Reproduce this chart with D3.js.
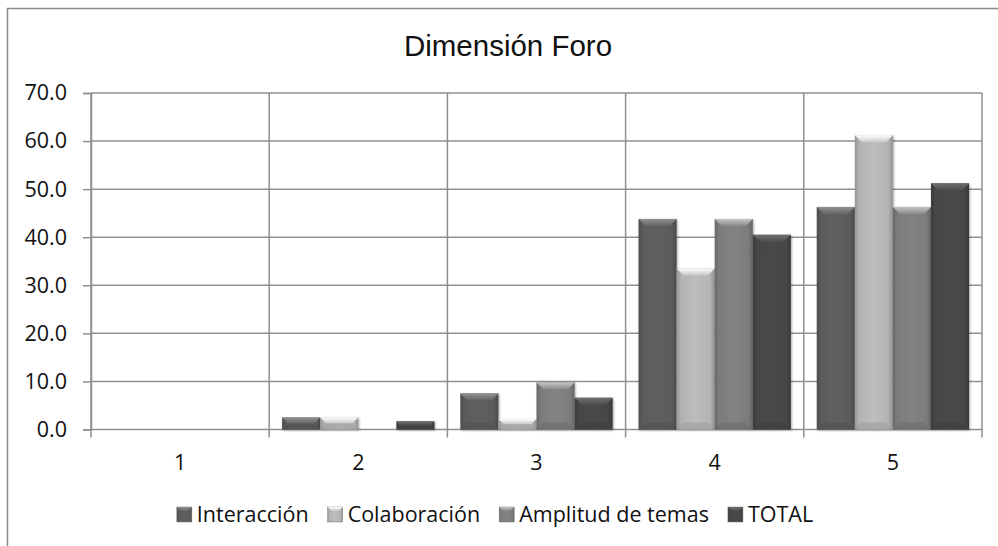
<!DOCTYPE html>
<html>
<head>
<meta charset="utf-8">
<script src="https://cdn.jsdelivr.net/npm/d3@7"></script>
<style>
  body { margin: 0; background: #fff; }
  svg { display: block; }
</style>
</head>
<body>
<div id="chart"></div>
<script>
// data
const categories = ["1", "2", "3", "4", "5"];
const series = ["Interacción", "Colaboración", "Amplitud de temas", "TOTAL"];
const interaccion  = [0, 2.5, 7.5, 43.8, 46.3];
const colaboracion = [0, 2.5, 2.2, 33.5, 61.2];
const amplitud     = [0, 0, 9.8, 43.8, 46.3];
const total        = [0, 1.7, 6.6, 40.5, 51.2];
const yTicks = [0, 10, 20, 30, 40, 50, 60, 70];
const colors = ["#5b5b5b", "#b3b3b3", "#7c7c7c", "#464646"];

const values = [interaccion, colaboracion, amplitud, total];

const width = 998, height = 546;
const margin = {top: 93, right: 16, bottom: 116, left: 91};
const labelFont = "21.5px 'Open Sans', sans-serif";

const svg = d3.select("#chart").append("svg")
    .attr("width", width)
    .attr("height", height);

// gradients per series: a bit lighter in the middle, darker at the edges
const defs = svg.append("defs");
series.forEach((s, i) => {
  const c = d3.color(colors[i]);
  const g = defs.append("linearGradient").attr("id", "g" + i)
      .attr("x1", 0).attr("x2", 1).attr("y1", 0).attr("y2", 0);
  g.append("stop").attr("offset", "0%").attr("stop-color", c.darker(0.5));
  g.append("stop").attr("offset", "12%").attr("stop-color", c);
  g.append("stop").attr("offset", "50%").attr("stop-color", c.brighter(0.15));
  g.append("stop").attr("offset", "88%").attr("stop-color", c);
  g.append("stop").attr("offset", "100%").attr("stop-color", c.darker(0.6));
  const t = defs.append("linearGradient").attr("id", "t" + i)
      .attr("x1", 0).attr("x2", 0).attr("y1", 0).attr("y2", 1);
  t.append("stop").attr("offset", "0%").attr("stop-color", c.brighter(1.3));
  t.append("stop").attr("offset", "100%").attr("stop-color", c.brighter(0.3));
});
const shadow = defs.append("filter").attr("id", "sh")
    .attr("x", "-20%").attr("y", "-20%").attr("width", "140%").attr("height", "140%");
shadow.append("feDropShadow").attr("dx", 1).attr("dy", 1).attr("stdDeviation", 1.2)
    .attr("flood-color", "#000").attr("flood-opacity", 0.35);

// outer chart border
svg.append("rect")
    .attr("x", 7.5).attr("y", 8.5)
    .attr("width", width + 10).attr("height", height + 10)
    .attr("fill", "none").attr("stroke", "#8a8a8a").attr("stroke-width", 1.5);

const x = d3.scaleBand().domain(categories)
    .range([margin.left, width - margin.right]);
const xs = d3.scaleBand().domain(series)
    .range([0, x.bandwidth()]).paddingOuter(0.34);
const y = d3.scaleLinear().domain([0, 70])
    .range([height - margin.bottom - 0.5, margin.top]);

// title
svg.append("text")
    .attr("x", 508)
    .attr("y", 56)
    .attr("text-anchor", "middle")
    .style("font", "29.5px 'Liberation Sans', Arial, sans-serif")
    .attr("fill", "#111")
    .text("Dimensión Foro");

const grid = "#8f8f8f";

// horizontal gridlines + y axis
const yAxis = svg.append("g")
    .attr("transform", `translate(${margin.left},0)`)
    .call(d3.axisLeft(y).tickValues(yTicks)
      .tickSize(8).tickPadding(16)
      .tickFormat(d3.format(".1f")));
yAxis.select(".domain").attr("stroke", grid).attr("stroke-width", 1.5);
yAxis.selectAll(".tick line").attr("stroke", grid).attr("stroke-width", 1.5);
yAxis.selectAll(".tick text")
    .style("font", labelFont).attr("fill", "#111");

svg.append("g").selectAll("line")
  .data(yTicks)
  .join("line")
    .attr("x1", margin.left).attr("x2", width - margin.right)
    .attr("y1", d => y(d)).attr("y2", d => y(d))
    .attr("stroke", grid).attr("stroke-width", 1.5);

// vertical gridlines at category boundaries
const bounds = categories.map(c => x(c)).concat([width - margin.right]);
svg.append("g").selectAll("line")
  .data(bounds)
  .join("line")
    .attr("x1", d => d).attr("x2", d => d)
    .attr("y1", margin.top).attr("y2", y(0) + 8)
    .attr("stroke", grid).attr("stroke-width", 1.5);

// category labels
svg.append("g").selectAll("text")
  .data(categories)
  .join("text")
    .attr("x", d => x(d) + x.bandwidth() / 2)
    .attr("y", 470)
    .attr("text-anchor", "middle")
    .style("font", labelFont)
    .attr("fill", "#111")
    .text(d => d);

// bars
const bev = 7;
const rows = [];
categories.forEach((c, ci) => series.forEach((s, si) => {
  rows.push({cat: c, s, si, v: values[si][ci]});
}));

const bars = svg.append("g").selectAll("g")
  .data(rows.filter(d => d.v > 0))
  .join("g")
    .attr("transform", d => `translate(${x(d.cat) + xs(d.s)},${y(d.v)})`);

bars.append("rect")
    .attr("width", xs.bandwidth())
    .attr("height", d => y(0) - y(d.v))
    .attr("fill", d => `url(#g${d.si})`)
    .attr("filter", "url(#sh)");

// top bevel
bars.append("path")
    .attr("d", d => {
      const w = xs.bandwidth(), h = Math.min(bev, (y(0) - y(d.v)) / 2);
      return `M0,0H${w}L${w - h},${h}H${h}Z`;
    })
    .attr("fill", d => `url(#t${d.si})`);

// bottom bevel
bars.append("path")
    .attr("d", d => {
      const w = xs.bandwidth(), hh = y(0) - y(d.v), h = Math.min(bev, hh / 2);
      return `M0,${hh}H${w}L${w - h},${hh - h}H${h}Z`;
    })
    .attr("fill", d => d3.color(colors[d.si]).darker(0.35))
    .attr("opacity", 0.6);

// legend
const legend = svg.append("g").attr("transform", "translate(0,522)");
const items = legend.selectAll("g")
  .data(series)
  .join("g");
items.append("rect")
    .attr("x", 0).attr("y", -15)
    .attr("width", 15).attr("height", 15)
    .attr("fill", (d, i) => `url(#g${i})`)
    .attr("stroke", "#777").attr("stroke-width", 0.5);
items.append("path")
    .attr("d", "M0,-15H15L11,-11H4Z")
    .attr("fill", (d, i) => `url(#t${i})`);
items.append("text")
    .attr("x", 20)
    .style("font", labelFont)
    .attr("fill", "#111")
    .text(d => d);

const gap = 19;
let widths = [];
items.each(function() { widths.push(this.getBBox().width); });
const totalW = d3.sum(widths) + gap * (widths.length - 1);
let cx = 495 - totalW / 2;
items.attr("transform", (d, i) => {
  const t = `translate(${cx},0)`;
  cx += widths[i] + gap;
  return t;
});
</script>
</body>
</html>
